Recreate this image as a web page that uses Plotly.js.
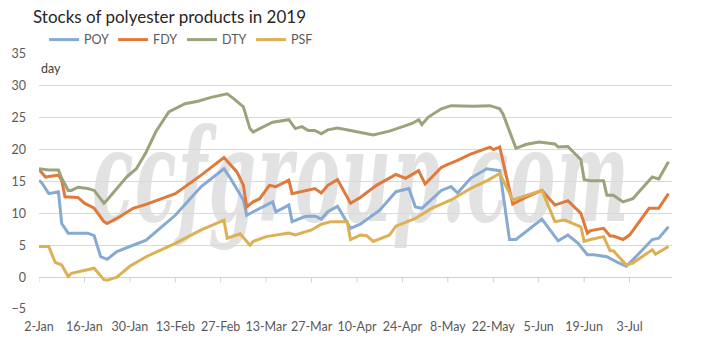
<!DOCTYPE html>
<html><head><meta charset="utf-8">
<script src="https://cdn.plot.ly/plotly-3.0.1.min.js"></script>
<style>
html,body{margin:0;padding:0;background:#fff;}
#wrap{position:relative;width:704px;height:355px;overflow:hidden;}
#wm{position:absolute;left:92px;top:111px;font-family:'DejaVu Serif';font-style:italic;font-weight:bold;font-size:68px;letter-spacing:1.5px;color:#e2e2e2;transform:scaleY(1.9);transform-origin:0 0;white-space:nowrap;z-index:0;line-height:1;}
#chart{position:absolute;left:0;top:0;width:704px;height:355px;z-index:1;}
</style></head><body>
<div id="wrap"><div id="wm">ccfgroup.com</div><div id="chart"></div></div>
<script>
// ---- data ----
const poyDates = ['2019-01-02','2019-01-03','2019-01-05','2019-01-08','2019-01-09','2019-01-11','2019-01-17','2019-01-19','2019-01-21','2019-01-23','2019-01-26','2019-01-31','2019-02-04','2019-02-13','2019-02-21','2019-02-28','2019-03-02','2019-03-06','2019-03-07','2019-03-09','2019-03-11','2019-03-15','2019-03-16','2019-03-20','2019-03-21','2019-03-25','2019-03-28','2019-03-30','2019-04-01','2019-04-04','2019-04-08','2019-04-11','2019-04-17','2019-04-22','2019-04-26','2019-04-28','2019-04-30','2019-05-06','2019-05-09','2019-05-11','2019-05-15','2019-05-20','2019-05-24','2019-05-27','2019-05-29','2019-06-06','2019-06-11','2019-06-14','2019-06-17','2019-06-20','2019-06-22','2019-06-26','2019-06-29','2019-07-02','2019-07-04','2019-07-10','2019-07-12','2019-07-15'];
const poyValues = [15.2,14.7,13.1,13.4,8.4,6.9,6.9,6.5,3.2,2.8,4.0,5.0,5.8,9.7,14.2,17.0,15.5,12.1,9.7,10.25,10.8,11.8,10.25,11.3,8.7,9.5,9.6,9.1,10.25,11.1,7.65,8.3,10.5,13.4,13.9,11.0,10.8,13.6,14.2,13.2,15.5,17.0,16.7,5.9,5.9,9.1,5.7,6.6,5.4,3.5,3.5,3.2,2.4,1.7,2.7,5.9,6.1,7.9];

const fdyDates = ['2019-01-02','2019-01-04','2019-01-08','2019-01-09','2019-01-10','2019-01-14','2019-01-16','2019-01-19','2019-01-22','2019-01-23','2019-01-27','2019-01-31','2019-02-04','2019-02-13','2019-02-21','2019-02-28','2019-03-04','2019-03-06','2019-03-07','2019-03-09','2019-03-11','2019-03-14','2019-03-16','2019-03-20','2019-03-21','2019-03-25','2019-03-28','2019-03-30','2019-04-01','2019-04-04','2019-04-08','2019-04-11','2019-04-16','2019-04-22','2019-04-25','2019-04-29','2019-05-01','2019-05-06','2019-05-08','2019-05-11','2019-05-15','2019-05-21','2019-05-22','2019-05-24','2019-05-28','2019-06-01','2019-06-06','2019-06-10','2019-06-14','2019-06-18','2019-06-20','2019-06-21','2019-06-25','2019-06-27','2019-06-28','2019-07-01','2019-07-03','2019-07-09','2019-07-12','2019-07-15'];
const fdyValues = [16.9,15.7,16.0,15.2,12.6,12.5,11.6,10.8,8.7,8.4,9.5,10.8,11.4,13.1,16.0,18.75,16.5,14.4,11.0,11.8,12.3,14.4,14.2,15.2,13.1,13.6,13.9,13.2,14.4,15.3,11.6,12.5,14.4,16.1,15.5,16.7,14.6,17.2,17.7,18.3,19.3,20.4,20.0,20.4,11.45,12.5,13.6,11.3,12.0,10.0,6.9,7.3,7.65,6.45,6.45,5.9,6.6,10.8,10.8,13.1];

const dtyDates = ['2019-01-02','2019-01-05','2019-01-08','2019-01-09','2019-01-11','2019-01-12','2019-01-14','2019-01-17','2019-01-19','2019-01-22','2019-01-23','2019-01-26','2019-01-29','2019-02-01','2019-02-04','2019-02-07','2019-02-11','2019-02-16','2019-02-20','2019-02-24','2019-02-27','2019-03-01','2019-03-03','2019-03-06','2019-03-08','2019-03-09','2019-03-11','2019-03-15','2019-03-20','2019-03-22','2019-03-24','2019-03-26','2019-03-28','2019-03-30','2019-04-01','2019-04-04','2019-04-08','2019-04-15','2019-04-20','2019-04-24','2019-04-27','2019-04-29','2019-04-30','2019-05-02','2019-05-06','2019-05-09','2019-05-16','2019-05-21','2019-05-24','2019-05-25','2019-05-29','2019-06-01','2019-06-05','2019-06-10','2019-06-11','2019-06-14','2019-06-18','2019-06-19','2019-06-21','2019-06-25','2019-06-26','2019-06-28','2019-07-01','2019-07-04','2019-07-10','2019-07-12','2019-07-15'];
const dtyValues = [17.0,16.8,16.8,15.5,13.6,13.6,14.1,13.9,13.6,11.6,12.1,13.9,15.7,17.0,19.6,22.8,25.9,27.2,27.6,28.2,28.5,28.75,28.0,26.7,23.3,22.75,23.3,24.3,24.7,23.3,23.6,23.0,23.0,22.5,23.1,23.4,23.0,22.3,22.9,23.6,24.1,24.7,23.95,25.1,26.4,26.9,26.8,26.9,26.4,25.6,20.2,20.8,21.2,20.9,20.4,20.5,18.4,15.3,15.1,15.1,12.85,12.85,11.8,12.3,15.7,15.4,18.1];

const psfDates = ['2019-01-02','2019-01-05','2019-01-07','2019-01-09','2019-01-11','2019-01-12','2019-01-19','2019-01-22','2019-01-23','2019-01-26','2019-01-30','2019-02-04','2019-02-13','2019-02-21','2019-02-28','2019-03-01','2019-03-05','2019-03-08','2019-03-09','2019-03-13','2019-03-20','2019-03-22','2019-03-27','2019-03-30','2019-04-02','2019-04-07','2019-04-08','2019-04-11','2019-04-13','2019-04-15','2019-04-20','2019-04-22','2019-04-28','2019-05-03','2019-05-09','2019-05-15','2019-05-20','2019-05-24','2019-05-28','2019-06-06','2019-06-10','2019-06-13','2019-06-18','2019-06-19','2019-06-21','2019-06-25','2019-06-27','2019-06-28','2019-07-02','2019-07-04','2019-07-10','2019-07-11','2019-07-15'];
const psfValues = [4.8,4.8,2.3,1.9,0.1,0.6,1.4,-0.4,-0.5,0.0,1.7,3.2,5.3,7.4,8.95,6.1,6.8,5.0,5.6,6.35,6.9,6.6,7.4,8.3,8.7,8.7,5.9,6.6,6.5,5.6,6.6,8.0,9.2,10.8,12.1,13.9,15.1,16.25,12.1,13.6,8.7,8.95,7.9,5.6,5.9,6.35,4.15,4.15,1.9,2.2,4.3,3.6,4.8];

const seriesNames = ['POY','FDY','DTY','PSF'];
const tickDates = ['2019-01-02','2019-01-16','2019-01-30','2019-02-13','2019-02-27','2019-03-13','2019-03-27','2019-04-10','2019-04-24','2019-05-08','2019-05-22','2019-06-05','2019-06-19','2019-07-03'];
const yTicks = [-5,0,5,10,15,20,25,30,35];

// ---- chart ----
const colors = ['#86aad4','#e07a3c','#9aa47c','#ddb054'];
const xs = [poyDates, fdyDates, dtyDates, psfDates];
const ys = [poyValues, fdyValues, dtyValues, psfValues];
const traces = seriesNames.map((n,i)=>({
  type:'scatter', mode:'lines', name:n, x:xs[i], y:ys[i],
  line:{color:colors[i], width:3}, hoverinfo:'skip'
}));

const font = 'Lato, "Open Sans", sans-serif';
const tickShapes = tickDates.map(d=>({
  type:'line', xref:'x', yref:'y', x0:d, x1:d, y0:0, y1:-0.8,
  line:{color:'#cfcfcf', width:1}
}));

const layout = {
  width:704, height:355,
  margin:{l:39, r:32, t:54, b:46},
  paper_bgcolor:'rgba(0,0,0,0)', plot_bgcolor:'rgba(0,0,0,0)',
  showlegend:true,
  title:{text:'Stocks of polyester products in 2019', xref:'container', yref:'container',
         x:33/704, xanchor:'left', y:1-17/355, yanchor:'middle',
         font:{family:font, size:17, color:'#262626'}},
  legend:{orientation:'h', x:0.008, xanchor:'left', y:1.055, yanchor:'middle',
          font:{family:font, size:12.5, color:'#595959'},
          entrywidth:24, entrywidthmode:'pixels', itemwidth:30, bgcolor:'rgba(0,0,0,0)'},
  xaxis:{type:'date', range:['2019-01-02','2019-07-16 02:00'],
         tickvals:tickDates, tickformat:'%-d-%b',
         showgrid:false, zeroline:false, showline:false,
         ticks:'outside', ticklen:6, tickcolor:'rgba(0,0,0,0)',
         tickfont:{family:font, size:12.5, color:'#595959'}},
  yaxis:{range:[-5,35], tickvals:yTicks, showgrid:true, gridcolor:'#d9d9d9', gridwidth:1,
         zeroline:true, zerolinecolor:'#d0d0d0', zerolinewidth:1, showline:false,
         ticks:'', ticklabelstandoff:12,
         tickfont:{family:font, size:12.5, color:'#595959'}},
  shapes:tickShapes,
  annotations:[{text:'day', xref:'paper', yref:'paper', x:0, xanchor:'left', xshift:0,
                y:1-(68-54)/255, yanchor:'middle', showarrow:false,
                font:{family:font, size:12.5, color:'#404040'}}],
  hovermode:false
};
Plotly.newPlot('chart', traces, layout, {displayModeBar:false, staticPlot:true});
</script>
</body></html>
